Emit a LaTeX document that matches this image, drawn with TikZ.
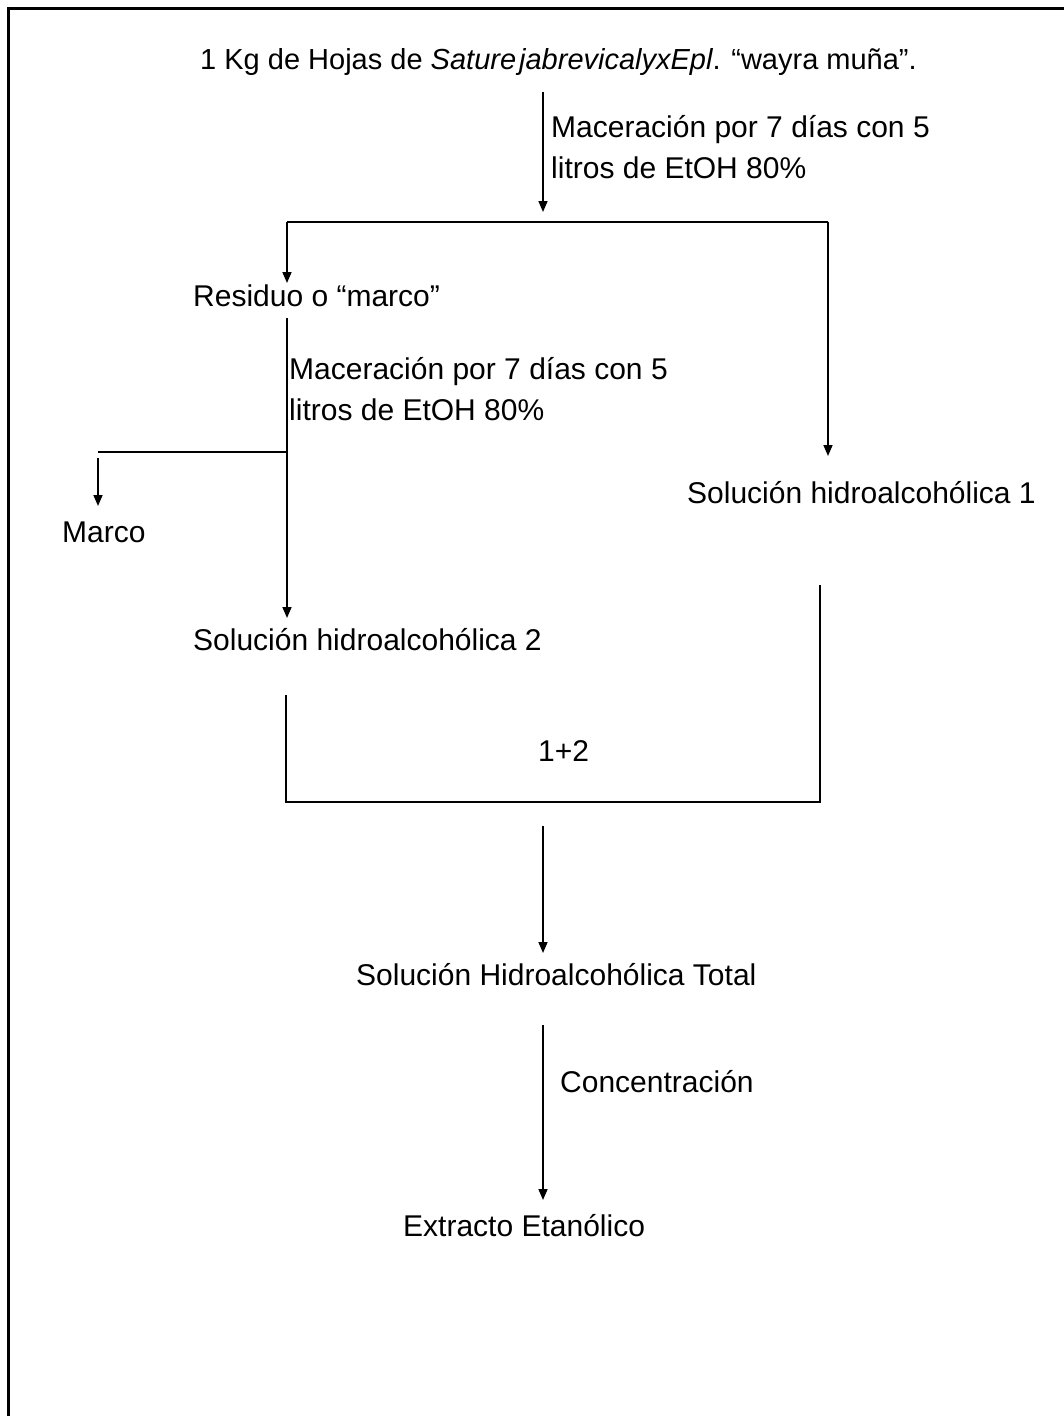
\documentclass[tikz,border=0pt]{standalone}
\usepackage{fontspec}
\setmainfont{Liberation Sans}
\usetikzlibrary{arrows.meta}
\begin{document}
\begin{tikzpicture}[x=1pt,y=-1pt,
  font=\fontsize{30}{35}\selectfont,
  lbl/.style={inner sep=0pt, anchor=west},
  flow/.style={line width=1.6pt},
  arr/.style={flow, -{Triangle[width=9pt,length=11pt]}},
  frame/.style={line width=3pt}]
\useasboundingbox (0,0) rectangle (1064,1416);
\draw[frame] (8,1416) -- (8,8) -- (1064,8);

% texts
\node[lbl, font=\fontsize{29}{34}\selectfont] (title) at (200,62) {1 Kg de Hojas de \textit{Sature}\hspace{3pt}\textit{jabrevicalyxEpl}. “wayra muña”.};
\node[lbl] (mac1a) at (551,130) {Maceración por 7 días con 5};
\node[lbl] (mac1b) at (551,168) {litros de EtOH 80\%};
\node[lbl] (res) at (193,296) {Residuo o “marco”};
\node[lbl] (sol1) at (687,493) {Solución hidroalcohólica 1};
\node[lbl] (mac2a) at (289,372) {Maceración por 7 días con 5};
\node[lbl] (mac2b) at (289,410) {litros de EtOH 80\%};
\node[lbl] (marco) at (62,532) {Marco};
\node[lbl] (sol2) at (193,640) {Solución hidroalcohólica 2};
\node[lbl] (sum) at (538,751) {1+2};
\node[lbl] (total) at (356,975) {Solución Hidroalcohólica Total};
\node[lbl] (conc) at (560,1082) {Concentración};
\node[lbl] (ext) at (403,1226) {Extracto Etanólico};

% junction coordinates
\coordinate (t0) at (543,92);
\coordinate (t1) at (543,212);
\coordinate (bl) at (287,222);
\coordinate (br) at (828,222);
\coordinate (resin) at (287,283);
\coordinate (sol1in) at (828,456);
\coordinate (r0) at (287,318);
\coordinate (sol2in) at (287,618);
\coordinate (mj) at (287,452);
\coordinate (mk) at (98,452);
\coordinate (mk0) at (98,458);
\coordinate (marcoin) at (98,506);
\coordinate (c1) at (286,695);
\coordinate (c2) at (286,802);
\coordinate (c3) at (820,802);
\coordinate (c4) at (820,585);
\coordinate (s0) at (543,826);
\coordinate (totalin) at (543,953);
\coordinate (u0) at (543,1025);
\coordinate (extin) at (543,1200);

% connectors
\draw[arr] (t0) -- (t1);
\draw[flow] (bl) -- (br);
\draw[arr] (bl) -- (resin);
\draw[arr] (br) -- (sol1in);
\draw[arr] (r0) -- (sol2in);
\draw[flow] (mk) -- (mj);
\draw[arr] (mk0) -- (marcoin);
\draw[flow] (c1) -- (c2) -- (c3) -- (c4);
\draw[arr] (s0) -- (totalin);
\draw[arr] (u0) -- (extin);
\end{tikzpicture}
\end{document}
